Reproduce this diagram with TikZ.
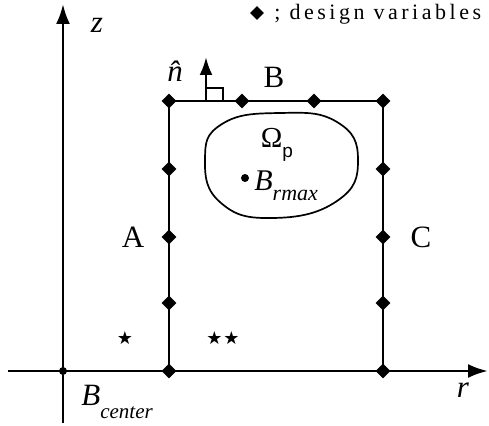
\documentclass[tikz,border=0pt]{standalone}
\usepackage{fontspec}
\setmainfont{Liberation Serif}
\setsansfont{Liberation Sans}
\newfontfamily\symfont{DejaVu Sans}
\usetikzlibrary{shapes.geometric, arrows.meta}

\tikzset{
    dv/.style={diamond, fill=black, inner sep=0pt, minimum size=16pt},
    big/.style={font=\fontsize{31}{33}\selectfont},
    ax/.style={-{Latex[length=20pt,width=14pt]}},
    st/.style={font=\symfont\fontsize{18}{18}\selectfont, inner sep=0pt}
}

\begin{document}
\begin{tikzpicture}[x=1pt,y=-1pt,line width=2.8pt]
\useasboundingbox (0,0) rectangle (489,425);

% axes
\node[circle, fill=black, inner sep=0pt, minimum size=8pt] (o) at (63,371) {};
\coordinate (zb) at (63,423);
\coordinate (zt) at (63,4);
\coordinate (rl) at (8,371);
\coordinate (rr) at (488,371);
\draw[ax] (zb) -- (zt);
\draw[ax] (rl) -- (rr);

% design variables
\foreach \y/\i in {371/0,303/1,237/2,169/3,101/4}
{
    \node[dv] (a\i) at (169,\y) {};
    \node[dv] (c\i) at (383,\y) {};
}
\node[dv] (b1) at (242,101) {};
\node[dv] (b2) at (314,101) {};

\draw (a0.center) -- (a4.center) -- (c4.center) -- (c0.center);

% normal
\coordinate (nb) at (206,101);
\coordinate (nt) at (206,57);
\draw[-{Latex[length=18pt,width=13pt]}] (nb) -- (nt);
\draw[line width=1.8pt] (206,88) -- (223,88) -- (223,101);

% region
\draw[line width=1.7pt] plot[smooth cycle, tension=0.8] coordinates {
    (205,160) (222,124) (280,113) (337,122)
    (358,160) (337,201) (273,218) (221,203)
};
\node[circle, fill=black, inner sep=0pt, minimum size=8pt] (bmax) at (245,178) {};

% labels
\node[anchor=base, font=\fontsize{29}{30}\selectfont] (om) at (277,147) {Ω\raisebox{-10pt}{\fontsize{19}{19}\sffamily p}};
\node[anchor=base west, inner sep=0pt] (bmaxl)
at ([xshift=8pt,yshift=-12pt]bmax.center) {\fontsize{30}{30}\selectfont\itshape B\raisebox{-10pt}{\fontsize{22}{24}\selectfont rmax}};
\node[anchor=base west, inner sep=0pt] (bcen)
at (80,405) {\fontsize{31}{32}\selectfont\itshape B\raisebox{-13pt}{\fontsize{21}{24}\selectfont center}};

\node[big] (la) at (133,237) {A};
\node[big] (lb) at (274,77) {B};
\node[big] (lc) at (421,237) {C};
\node[big] (lz) at (97,25) {\itshape z};
\node[big] (lr) at (463,390) {\itshape r};
\node[big] (ln) at (175,71) {\itshape\^{n}};

\node[st] (s1) at (125,338) {★};
\node[st] (s2) at (223,338) {★\hspace{1pt}★};

% legend
\node[dv, minimum size=15pt] (key) at (257,13) {};
\node[anchor=base west, inner sep=0pt, font=\fontsize{22}{22}\selectfont\addfontfeature{LetterSpace=16}]
(keyl) at ([xshift=16pt,yshift=-7pt]key.center) {; design variables};
\end{tikzpicture}
\end{document}
